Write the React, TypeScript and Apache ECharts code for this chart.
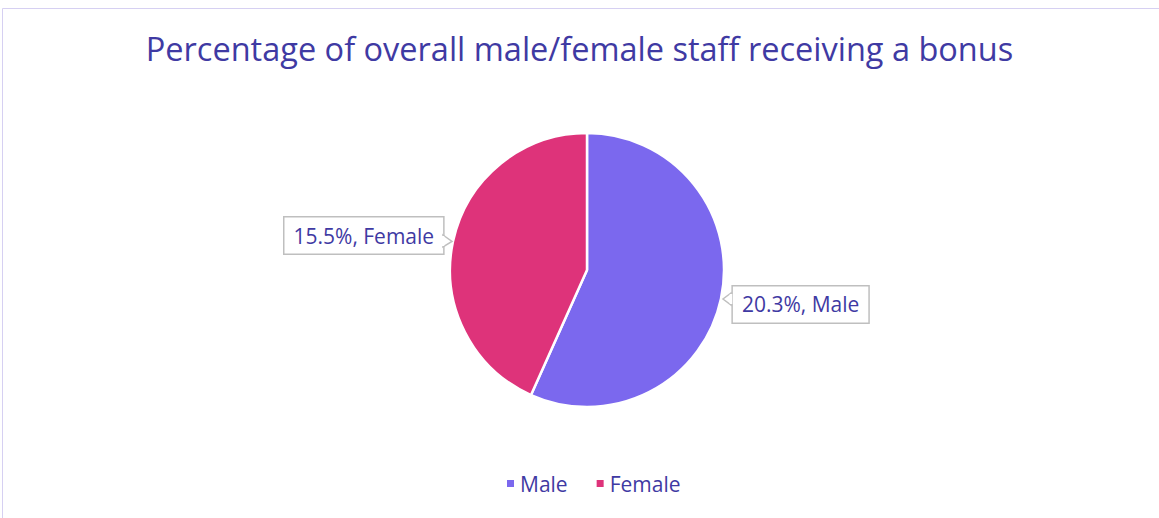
import React, { useEffect, useRef } from "react";
import * as echarts from "echarts";

const titleText = "Percentage of overall male/female staff receiving a bonus";
const categories = ["Male", "Female"];
const values = [20.3, 15.5];
const colors = ["#7B68EE", "#DE337A"];

const FONT = "Open Sans";
const textColor = "#3F3AA3";
const labelBorder = "#BFBFBF";

export default function App() {
  const ref = useRef<HTMLDivElement>(null);
  useEffect(() => {
    const chart = echarts.init(ref.current!, null, { renderer: "svg" });
    const pointer = (pts: number[][], baseX: number, y0: number, y1: number) => [
      {
        type: "polygon",
        z: 100,
        silent: true,
        shape: { points: pts },
        style: { fill: "#ffffff", stroke: labelBorder, lineWidth: 1.5 },
      },
      {
        type: "line",
        z: 101,
        silent: true,
        shape: { x1: baseX, y1: y0, x2: baseX, y2: y1 },
        style: { stroke: "#ffffff", lineWidth: 2.5 },
      },
    ];
    chart.setOption({
      animation: false,
      backgroundColor: "#ffffff",
      textStyle: { fontFamily: FONT },
      title: {
        text: titleText,
        left: "center",
        top: 27,
        textStyle: { fontFamily: FONT, fontSize: 32.5, fontWeight: "normal", color: textColor },
      },
      graphic: [
        {
          type: "rect",
          shape: { x: 2.5, y: 8.5, width: 1200, height: 600 },
          style: { fill: "none", stroke: "#D6D0F2", lineWidth: 1 },
          silent: true,
        },
        ...pointer([[443, 235], [452, 241.5], [443, 247]], 443, 236, 246),
        ...pointer([[731, 293], [723, 299], [731, 305]], 731, 294, 304),
      ],
      legend: {
        bottom: 19,
        left: 500,
        icon: "rect",
        itemWidth: 9,
        itemHeight: 9,
        itemGap: 27,
        data: categories,
        textStyle: { fontFamily: FONT, fontSize: 21, color: textColor },
      },
      series: [
        {
          type: "pie",
          center: [587, 270],
          radius: [0, 137],
          startAngle: 90,
          clockwise: true,
          data: categories.map((c, i) => ({ name: c, value: values[i], itemStyle: { color: colors[i] } })),
          itemStyle: { borderColor: "#ffffff", borderWidth: 2.5 },
          label: {
            show: true,
            position: "outside",
            formatter: (p: any) => `${p.value.toFixed(1)}%, ${p.name}`,
            fontFamily: FONT,
            fontSize: 21,
            color: textColor,
            backgroundColor: "#ffffff",
            borderColor: labelBorder,
            borderWidth: 1.5,
            padding: [8, 9, 7, 9],
          },
          labelLine: { show: false, length: 4, length2: 0 },
          labelLayout: (p: any) => (p.dataIndex === 0 ? { dx: 3, dy: 5 } : { dx: -1, dy: -5 }),
        },
      ],
    });
    return () => chart.dispose();
  }, []);
  return (
    <div
      ref={ref}
      style={{ position: "fixed", left: 0, top: 0, width: 1159, height: 518 }}
    />
  );
}
